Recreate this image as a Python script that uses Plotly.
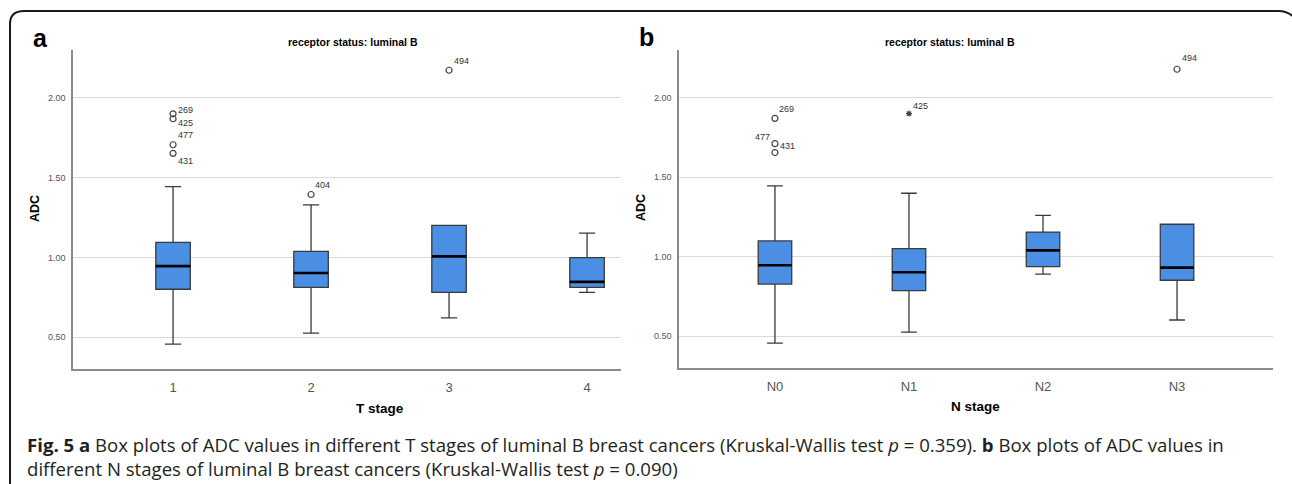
import plotly.graph_objects as go

W, H = 1292, 484

# ---------------- data ----------------
T_CATS = ["1", "2", "3", "4"]
T_Q1 = [0.800, 0.812, 0.781, 0.812]
T_MED = [0.945, 0.902, 1.006, 0.846]
T_Q3 = [1.094, 1.038, 1.200, 0.998]
T_LO = [0.456, 0.525, 0.620, 0.781]
T_HI = [1.444, 1.329, 1.200, 1.152]
T_OUT_CAT = [0, 0, 0, 0, 1, 2]
T_OUT_VAL = [1.900, 1.869, 1.706, 1.652, 1.394, 2.173]
T_OUT_ID = ["269", "425", "477", "431", "404", "494"]

N_CATS = ["N0", "N1", "N2", "N3"]
N_Q1 = [0.828, 0.787, 0.938, 0.852]
N_MED = [0.946, 0.902, 1.040, 0.931]
N_Q3 = [1.099, 1.051, 1.155, 1.204]
N_LO = [0.457, 0.526, 0.891, 0.602]
N_HI = [1.445, 1.399, 1.260, 1.204]
N_OUT_CAT = [0, 0, 0, 3]
N_OUT_VAL = [1.870, 1.711, 1.655, 2.179]
N_OUT_ID = ["269", "477", "431", "494"]
N_EXT_CAT = [1]
N_EXT_VAL = [1.900]
N_EXT_ID = ["425"]

Y_TICKS = [0.5, 1.0, 1.5, 2.0]

# ---------------- style ----------------
BOX_FILL = "#4a8fe3"
BOX_LINE = "#3a3a3a"
BOX_W = 0.25
MARK_LINE = "#444444"
GRID = "#d9d9d9"
AXLINE = "#8a8a8a"
TICKFONT = dict(family="Liberation Sans, Arial", size=9, color="#555555")
XTICKFONT = dict(family="Liberation Sans, Arial", size=13, color="#555555")


def px(x):
    return x / W


def py(y):
    return 1 - y / H


fig = go.Figure()


def add_panel(xa, ya, cats, q1, med, q3, lo, hi):
    pos = list(range(len(cats)))
    fig.add_trace(go.Box(
        x=pos, q1=q1, median=med, q3=q3, lowerfence=lo, upperfence=hi,
        width=BOX_W, whiskerwidth=0.47, fillcolor=BOX_FILL,
        line=dict(color=BOX_LINE, width=1.3), boxpoints=False,
        xaxis=xa, yaxis=ya, showlegend=False, hoverinfo="skip"))
    mx, my = [], []
    for p, m in zip(pos, med):
        mx += [p - BOX_W / 2, p + BOX_W / 2, None]
        my += [m, m, None]
    fig.add_trace(go.Scatter(x=mx, y=my, mode="lines",
                             line=dict(color="black", width=2.6),
                             xaxis=xa, yaxis=ya, showlegend=False,
                             hoverinfo="skip"))


add_panel("x", "y", T_CATS, T_Q1, T_MED, T_Q3, T_LO, T_HI)
add_panel("x2", "y2", N_CATS, N_Q1, N_MED, N_Q3, N_LO, N_HI)

fig.add_trace(go.Scatter(x=T_OUT_CAT, y=T_OUT_VAL, mode="markers",
                         marker=dict(symbol="circle-open", size=6,
                                     color=MARK_LINE, line=dict(width=1.2)),
                         xaxis="x", yaxis="y", showlegend=False))
fig.add_trace(go.Scatter(x=N_OUT_CAT, y=N_OUT_VAL, mode="markers",
                         marker=dict(symbol="circle-open", size=6,
                                     color=MARK_LINE, line=dict(width=1.2)),
                         xaxis="x2", yaxis="y2", showlegend=False))
fig.add_trace(go.Scatter(x=N_EXT_CAT, y=N_EXT_VAL, mode="markers",
                         marker=dict(symbol="asterisk-open", size=5,
                                     color=MARK_LINE, line=dict(width=1.2)),
                         xaxis="x2", yaxis="y2", showlegend=False))

# outlier id labels (offsets in pixels)
T_LAB_OFF = [(3, 4, "left"), (3, -4, "left"), (3, 10, "left"),
             (3, -8, "left"), (2, 10, "left"), (3, 9, "left")]
N_LAB_OFF = [(2, 9, "left"), (-3, 7, "right"), (3, 7, "left"), (3, 11, "left")]
N_EXT_OFF = [(2, 8, "left")]

annots = []
LABFONT = dict(family="Liberation Sans, Arial", size=9, color="#333333")
for xs, ys, ids, offs, xr, yr in [
        (T_OUT_CAT, T_OUT_VAL, T_OUT_ID, T_LAB_OFF, "x", "y"),
        (N_OUT_CAT, N_OUT_VAL, N_OUT_ID, N_LAB_OFF, "x2", "y2"),
        (N_EXT_CAT, N_EXT_VAL, N_EXT_ID, N_EXT_OFF, "x2", "y2")]:
    for xv, yv, t, (dx, dy, anc) in zip(xs, ys, ids, offs):
        annots.append(dict(x=xv, y=yv, xref=xr, yref=yr, text=t,
                           showarrow=False, xanchor=anc, yanchor="middle",
                           xshift=dx, yshift=dy, font=LABFONT))


# texts in figure pixel positions
def txt(x, y, text, size, bold=False, color="black", angle=0,
        xanchor="center", family="Liberation Sans, Arial"):
    annots.append(dict(x=px(x), y=py(y), xref="paper", yref="paper",
                       text=f"<b>{text}</b>" if bold else text,
                       showarrow=False, xanchor=xanchor, yanchor="middle",
                       textangle=angle,
                       font=dict(family=family, size=size, color=color)))


txt(40, 38, "a", 25, bold=True)
txt(646, 37, "b", 25, bold=True)
txt(353, 42, "receptor status: luminal B", 10.5, bold=True)
txt(950, 42, "receptor status: luminal B", 10.5, bold=True)
txt(35, 209, "ADC", 12.5, bold=True, angle=-90)
txt(641, 208, "ADC", 12.5, bold=True, angle=-90)
txt(380, 408, "T stage", 13.5, bold=True)
txt(976, 406, "N stage", 13.5, bold=True)

CAP_FONT = "Open Sans"
txt(25, 444, "<b>Fig. 5 a</b> Box plots of ADC values in different T stages of "
    "luminal B breast cancers (Kruskal-Wallis test <i>p</i> = 0.359). "
    "<b>b</b> Box plots of ADC values in", 18.6, xanchor="left",
    color="#231f20", family=CAP_FONT)
txt(25, 468, "different N stages of luminal B breast cancers "
    "(Kruskal-Wallis test <i>p</i> = 0.090)", 18.6, xanchor="left",
    color="#231f20", family=CAP_FONT)

axis_common_y = dict(range=[0.30, 2.30], tickvals=Y_TICKS, tickformat=".2f",
                     showgrid=True, gridcolor=GRID, gridwidth=1,
                     zeroline=False, showline=True, linecolor=AXLINE,
                     linewidth=1.5, ticks="", tickfont=TICKFONT,
                     ticklabelstandoff=4)
axis_common_x = dict(showgrid=False, zeroline=False, showline=True,
                     linecolor=AXLINE, linewidth=1.5, ticks="",
                     tickfont=XTICKFONT, ticklabelstandoff=6)

fig.update_layout(
    width=W, height=H, margin=dict(l=0, r=0, t=0, b=0),
    paper_bgcolor="white", plot_bgcolor="white",
    xaxis=dict(domain=[px(73), px(621)], range=[-0.725, 3.246],
               tickvals=list(range(len(T_CATS))), ticktext=T_CATS,
               anchor="y", **axis_common_x),
    yaxis=dict(domain=[py(369), py(50)], anchor="x", **axis_common_y),
    xaxis2=dict(domain=[px(679), px(1273)], range=[-0.716, 3.716],
                tickvals=list(range(len(N_CATS))), ticktext=N_CATS,
                anchor="y2", **axis_common_x),
    yaxis2=dict(domain=[py(368), py(50)], anchor="x2", **axis_common_y),
    annotations=annots,
    shapes=[dict(type="path", xref="paper", yref="paper",
                 path=(f"M {px(10)},{py(490)} L {px(10)},{py(24)} "
                       f"Q {px(10)},{py(11)} {px(24)},{py(11)} "
                       f"L {px(1278)},{py(11)} "
                       f"Q {px(1290)},{py(11)} {px(1296)},{py(20)}"),
                 line=dict(color="#1a1a1a", width=2))],
)

fig.write_html("out.html")
